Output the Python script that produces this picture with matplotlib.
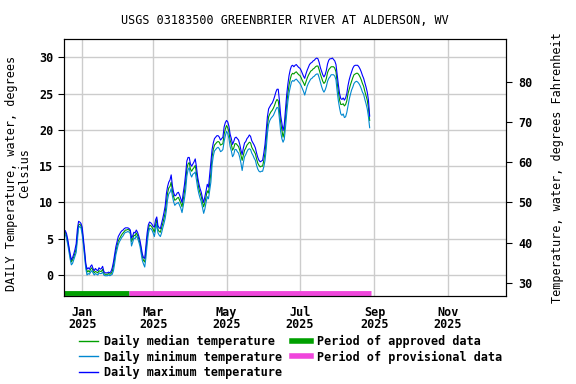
import numpy as np
import pandas as pd
import matplotlib
matplotlib.use("Agg")
import matplotlib.pyplot as plt
import matplotlib.dates as mdates
from matplotlib.lines import Line2D

plt.rcParams['font.family'] = 'DejaVu Sans Mono'
plt.rcParams['font.weight'] = 'bold'
plt.rcParams['font.size'] = 8.5

# daily values, 2024-12-17 .. 2025-08-28 (deg C)
start_date = "2024-12-17"

median_temp = [
    6.0, 5.9, 5.4, 4.6, 3.6, 2.6, 1.8, 2.1, 2.5, 3.0, 3.6, 5.5, 6.9, 7.0, 6.8,
    6.1, 4.6, 3.0, 1.3, 0.4, 0.6, 0.4, 0.8, 1.0, 0.6, 0.3, 0.5, 0.4, 0.3, 0.6, 0.5,
    0.5, 0.8, 0.2, 0.1, 0.1, 0.1, 0.2, 0.1, 0.2, 0.5, 1.2, 2.3, 3.3, 4.0, 4.7,
    5.0, 5.3, 5.6, 5.8, 6.0, 6.2, 6.2, 6.3, 6.2, 6.0, 4.6, 5.0, 5.5, 5.4, 5.8,
    5.5, 5.0, 4.4, 3.5, 2.5, 2.0, 1.8, 3.2, 5.0, 6.3, 6.9, 6.8, 6.6,
    6.3, 5.9, 6.9, 7.6, 6.3, 6.0, 5.9, 6.5, 7.1, 7.8, 8.6, 10.0, 11.3, 12.0, 12.2,
    12.8, 11.6, 10.8, 10.3, 10.4, 10.6, 10.7, 10.3, 9.9, 9.4, 10.4, 11.4, 12.8, 14.6, 15.3, 15.5,
    14.6, 14.3, 14.6, 14.8, 15.1, 14.0, 12.8, 11.9, 11.3, 10.8, 10.0, 9.4, 10.0, 10.8, 11.6,
    11.3, 12.6, 14.0, 16.3, 17.3, 17.9, 18.1, 18.3, 18.4, 18.3, 17.9, 18.0, 18.1, 19.4, 20.1,
    20.6, 20.3, 19.7, 18.6, 18.0, 17.2, 17.5, 18.1, 18.1, 17.9, 17.7, 17.2, 16.5, 15.8, 16.5,
    17.2, 17.5, 17.9, 18.1, 18.3, 18.2, 17.6, 17.3, 17.0, 16.7, 16.0, 15.4, 15.1, 14.9, 15.0, 15.0,
    15.8, 16.8, 18.6, 20.6, 21.8, 22.2, 22.5, 22.7, 23.0, 23.4, 23.9, 24.2, 24.0, 22.6, 21.0,
    20.0, 19.0, 19.7, 21.5, 23.5, 25.0, 26.2, 27.0, 27.6, 27.8, 27.7, 27.9, 28.0, 27.8, 27.6,
    27.5, 27.2, 26.8, 26.5, 26.1, 26.6, 27.1, 27.5, 27.8, 28.1, 28.2, 28.4, 28.5, 28.7, 28.8,
    28.8, 28.3, 27.7, 27.2, 26.7, 26.4, 26.6, 27.1, 27.9, 28.3, 28.5, 28.7, 28.7, 28.7, 28.5, 28.0,
    26.5, 25.2, 24.1, 23.5, 23.5, 23.6, 23.3, 23.5, 24.0, 25.0, 25.6, 26.2, 26.7, 27.2,
    27.6, 27.7, 27.8, 27.8, 27.6, 27.3, 26.9, 26.4, 26.0, 25.3, 24.7, 24.1, 23.0, 21.3,
]

max_temp = [
    6.2, 6.1, 5.7, 4.9, 3.9, 2.9, 2.1, 2.4, 2.9, 3.5, 4.3, 6.3, 7.4, 7.3, 7.1,
    6.6, 5.0, 3.4, 1.6, 0.8, 1.0, 0.8, 1.2, 1.4, 0.9, 0.6, 0.9, 0.7, 0.6, 1.0, 0.8,
    0.9, 1.2, 0.5, 0.3, 0.3, 0.3, 0.4, 0.3, 0.5, 1.0, 1.8, 2.9, 3.9, 4.6, 5.3,
    5.6, 5.9, 6.1, 6.2, 6.4, 6.5, 6.5, 6.5, 6.4, 6.2, 5.1, 5.4, 5.9, 5.8, 6.2,
    5.9, 5.4, 4.8, 3.9, 2.9, 2.4, 2.3, 4.0, 5.8, 6.9, 7.3, 7.2, 7.0,
    6.7, 6.6, 7.6, 8.0, 6.8, 6.5, 6.4, 7.1, 7.8, 8.6, 9.5, 11.2, 12.2, 12.8, 13.1,
    13.8, 12.3, 11.4, 10.9, 11.0, 11.3, 11.4, 11.0, 10.5, 10.0, 11.3, 12.4, 13.9, 15.7, 16.2, 16.2,
    15.3, 15.0, 15.3, 15.6, 16.0, 14.9, 13.5, 12.6, 11.9, 11.4, 10.6, 10.0, 10.8, 11.6, 12.5,
    12.1, 13.8, 15.4, 17.3, 18.2, 18.8, 19.0, 19.2, 19.2, 19.0, 18.6, 18.8, 19.0, 20.4, 21.0,
    21.3, 21.1, 20.5, 19.4, 18.8, 18.0, 18.4, 18.9, 19.0, 18.8, 18.6, 18.0, 17.2, 16.6, 17.5,
    18.2, 18.4, 18.8, 19.0, 19.3, 19.1, 18.5, 18.2, 17.9, 17.5, 16.8, 16.2, 15.8, 15.6, 15.7, 15.8,
    16.8, 18.0, 19.9, 21.8, 22.9, 23.2, 23.5, 23.7, 24.1, 24.6, 25.2, 25.6, 25.6, 24.0, 22.0,
    20.9, 19.9, 20.7, 22.7, 24.8, 26.3, 27.5, 28.3, 28.8, 28.9, 28.7, 28.9, 29.0, 28.8, 28.6,
    28.5, 28.2, 27.8, 27.4, 27.1, 27.7, 28.2, 28.6, 29.0, 29.2, 29.3, 29.5, 29.6, 29.8, 29.9,
    29.8, 29.3, 28.6, 28.1, 27.6, 27.3, 27.6, 28.2, 29.1, 29.6, 29.8, 29.8, 29.9, 29.7, 29.5, 29.0,
    27.6, 26.2, 25.0, 24.3, 24.2, 24.4, 24.1, 24.4, 25.0, 26.1, 26.9, 27.5, 28.0, 28.5,
    28.8, 28.9, 28.9, 28.9, 28.7, 28.4, 28.0, 27.5, 27.1, 26.5, 25.9, 25.2, 24.1, 21.9,
]

min_temp = [
    5.7, 5.6, 5.0, 4.2, 3.2, 2.2, 1.4, 1.6, 2.1, 2.6, 3.1, 4.8, 6.5, 6.7, 6.5,
    5.6, 4.2, 2.6, 0.9, 0.0, 0.2, 0.1, 0.4, 0.6, 0.3, 0.0, 0.2, 0.1, 0.0, 0.3, 0.2,
    0.2, 0.4, 0.0, -0.1, -0.1, -0.1, 0.0, -0.1, 0.0, 0.1, 0.6, 1.6, 2.8, 3.5, 4.2,
    4.6, 4.9, 5.2, 5.4, 5.7, 5.9, 5.9, 6.0, 5.9, 5.7, 4.0, 4.5, 5.1, 5.0, 5.4,
    5.1, 4.6, 4.0, 3.0, 2.0, 1.5, 1.1, 2.4, 4.2, 5.7, 6.4, 6.4, 6.2,
    5.8, 5.3, 6.2, 7.1, 5.8, 5.5, 5.3, 5.8, 6.5, 7.1, 7.8, 8.9, 10.4, 11.2, 11.4,
    11.9, 10.9, 10.1, 9.6, 9.8, 9.9, 10.0, 9.6, 9.2, 8.6, 9.5, 10.5, 11.7, 13.6, 14.5, 14.8,
    13.9, 13.5, 13.9, 14.0, 14.2, 13.1, 12.0, 11.2, 10.6, 10.1, 9.3, 8.5, 9.1, 10.0, 10.8,
    10.5, 11.6, 12.8, 15.2, 16.4, 17.1, 17.3, 17.5, 17.6, 17.4, 17.0, 17.1, 17.3, 18.4, 19.2,
    19.8, 19.5, 18.8, 17.7, 17.1, 16.3, 16.6, 17.3, 17.3, 17.0, 16.8, 16.2, 15.4, 14.4, 15.5,
    16.3, 16.6, 17.0, 17.3, 17.4, 17.3, 16.8, 16.5, 16.1, 15.8, 15.1, 14.6, 14.3, 14.2, 14.3, 14.3,
    14.9, 15.8, 17.4, 19.5, 20.8, 21.3, 21.6, 21.8, 22.0, 22.4, 22.8, 23.1, 23.0, 21.5, 19.8,
    18.8, 18.3, 18.7, 20.3, 22.2, 23.9, 25.1, 25.9, 26.6, 26.8, 26.7, 26.9, 27.0, 26.8, 26.6,
    26.4, 26.1, 25.7, 25.3, 24.8, 25.4, 26.0, 26.4, 26.7, 27.0, 27.1, 27.3, 27.4, 27.6, 27.7,
    27.7, 27.2, 26.6, 26.0, 25.5, 25.2, 25.5, 26.0, 26.7, 27.1, 27.3, 27.6, 27.6, 27.6, 27.4, 26.9,
    25.3, 24.0, 23.0, 22.2, 22.0, 22.2, 21.7, 21.8, 22.4, 23.3, 24.2, 24.9, 25.5, 25.9,
    26.4, 26.6, 26.7, 26.6, 26.4, 26.1, 25.7, 25.2, 24.9, 24.2, 23.6, 22.9, 21.8, 20.3,
]

approved_period = ["2024-12-17", "2025-02-09"]
provisional_period = ["2025-02-09", "2025-08-29"]

x_ticks = ["2025-01-01", "2025-03-01", "2025-05-01", "2025-07-01", "2025-09-01", "2025-11-01"]
x_labels = ["Jan\n2025", "Mar\n2025", "May\n2025", "Jul\n2025", "Sep\n2025", "Nov\n2025"]

dates = pd.date_range(start_date, periods=len(median_temp), freq="D")

fig = plt.figure(figsize=(5.76, 3.84), dpi=100)
ax = fig.add_axes([0.111, 0.229, 0.767, 0.669])

ax.plot(dates, median_temp, color="#009a00", linewidth=0.8)
ax.plot(dates, min_temp, color="#0088d0", linewidth=0.8)
ax.plot(dates, max_temp, color="#0000ff", linewidth=0.8)

bar_y = -2.45
ax.plot(pd.to_datetime(approved_period), [bar_y, bar_y], color="#00a000", linewidth=3.5, solid_capstyle="butt")
ax.plot(pd.to_datetime(provisional_period), [bar_y, bar_y], color="#f046dc", linewidth=3.5, solid_capstyle="butt")

ymin, ymax = -2.9, 32.5
ax.set_ylim(ymin, ymax)
ax.set_xlim(pd.Timestamp("2024-12-16 20:00"), pd.Timestamp("2025-12-19 03:00"))
ax.set_yticks([0, 5, 10, 15, 20, 25, 30])
ax.set_xticks(pd.to_datetime(x_ticks))
ax.set_xticklabels(x_labels)
for t in ax.get_xticklabels():
    t.set_linespacing(0.95)
ax.grid(True, color="#cccccc", linewidth=1)
ax.set_axisbelow(True)
ax.tick_params(axis="x", length=0, pad=7)
ax.tick_params(axis="y", length=4)
ax.set_ylabel("DAILY Temperature, water, degrees\nCelsius", labelpad=6, linespacing=0.95)
ax.yaxis.label.set_y(0.479)
ax.set_title("USGS 03183500 GREENBRIER RIVER AT ALDERSON, WV", fontsize=8.5, pad=10.8)

ax2 = ax.twinx()
ax2.set_ylim(ymin * 9 / 5 + 32, ymax * 9 / 5 + 32)
ax2.set_yticks([30, 40, 50, 60, 70, 80])
ax2.tick_params(axis="y", length=4, pad=5)
ax2.set_ylabel("Temperature, water, degrees Fahrenheit", labelpad=13)

handles = [
    Line2D([], [], color="#00a000", linewidth=1),
    Line2D([], [], color="#0088d0", linewidth=1),
    Line2D([], [], color="#0000ff", linewidth=1),
    Line2D([], [], color="#00a000", linewidth=4),
    Line2D([], [], color="#f046dc", linewidth=4),
]
labels = [
    "Daily median temperature",
    "Daily minimum temperature",
    "Daily maximum temperature",
    "Period of approved data",
    "Period of provisional data",
]
fig.legend(handles, labels, ncol=2, loc="upper left", bbox_to_anchor=(0.138, 0.128),
           frameon=False, handlelength=1.6, handletextpad=0.5, columnspacing=0.85,
           labelspacing=0.21, borderaxespad=0, borderpad=0)

fig.savefig("out.png", dpi=100)
